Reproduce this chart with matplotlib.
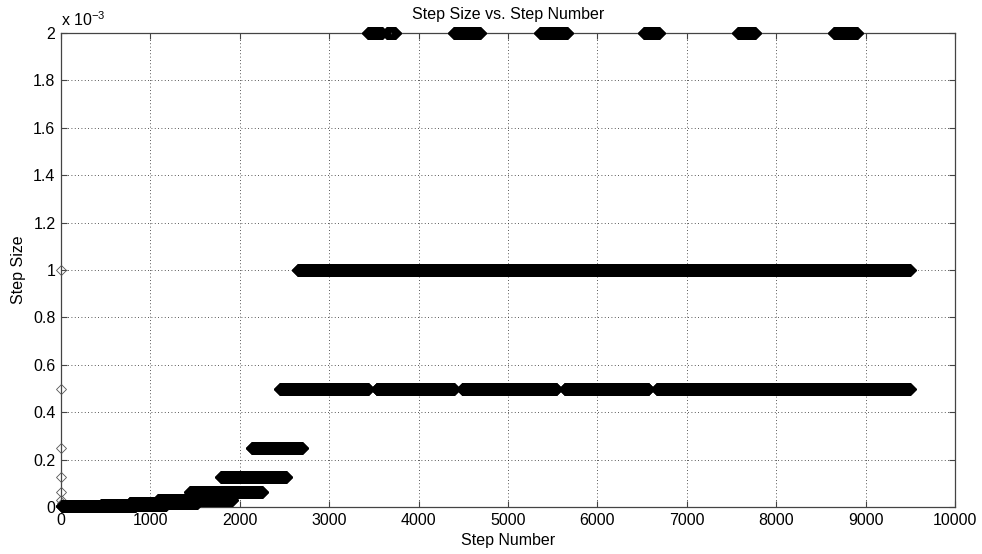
import numpy as np
import matplotlib
matplotlib.use('Agg')
import matplotlib.pyplot as plt

plt.rcParams['font.family'] = ['Liberation Sans', 'DejaVu Sans']
plt.rcParams['mathtext.default'] = 'regular'

# first few steps: step size halved until the solver settled
first_steps = [0, 1, 2, 3, 4, 5, 6]
first_sizes = [1e-3, 0.5e-3, 0.25e-3, 0.125e-3, 0.0625e-3, 0.03125e-3, 0.015625e-3]

# runs of constant step size (size, first step, last step)
run_size = [0.0039e-3, 0.0078e-3, 0.0156e-3, 0.03125e-3, 0.0625e-3, 0.125e-3, 0.25e-3,
            0.5e-3, 0.5e-3, 0.5e-3, 0.5e-3, 0.5e-3,
            1e-3,
            2e-3, 2e-3, 2e-3, 2e-3, 2e-3, 2e-3, 2e-3]
run_start = [8, 450, 770, 1085, 1443, 1790, 2136,
             2450, 3530, 4490, 5635, 6665,
             2650,
             3434, 3647, 4396, 5358, 6521, 7573, 8647]
run_stop = [830, 1170, 1520, 1913, 2248, 2517, 2696,
            3435, 4395, 5540, 6570, 9495,
            9495,
            3590, 3736, 4687, 5660, 6689, 7763, 8904]

steps = []
sizes = []
for s, a, b in zip(run_size, run_start, run_stop):
    n = np.arange(a, b + 1)
    steps.append(n)
    sizes.append(np.full(len(n), s))
steps = np.concatenate(steps)
sizes = np.concatenate(sizes)

fig = plt.figure(figsize=(9.82, 5.54), dpi=100)
ax = fig.add_axes([61/982, 47/554, 894/982, 474/554])

# isolated markers look thinner/greyer than the dense runs
ax.plot(first_steps, first_sizes, linestyle='none', marker='D', markersize=4.6,
        markerfacecolor='none', markeredgecolor='#555555', markeredgewidth=0.6,
        clip_on=False, zorder=3)
ax.plot(steps, sizes, linestyle='none', marker='D', markersize=6,
        markerfacecolor='none', markeredgecolor='k', markeredgewidth=0.6,
        clip_on=False, zorder=3)

ax.set_xlim(0, 10000)
ax.set_ylim(0, 2e-3)
ax.set_xticks(np.arange(0, 10001, 1000))
yt = np.arange(0, 2.01, 0.2)
ax.set_yticks(yt * 1e-3)
ax.set_yticklabels(['0' if v == 0 else ('%g' % round(v, 1)) for v in yt])

ax.grid(True, color='#222222', linestyle=(0, (1, 3)), linewidth=0.6)
ax.tick_params(direction='in', length=4, width=0.8, top=True, right=True,
               labelsize=11.5, color='#444444', pad=4)
for sp in ax.spines.values():
    sp.set_color('#444444')
    sp.set_linewidth(0.9)

ax.text(0, 1.008, r'x 10$^{-3}$', transform=ax.transAxes, fontsize=11.5,
        ha='left', va='bottom')
ax.set_title('Step Size vs. Step Number', fontsize=11.5, pad=10)
ax.set_xlabel('Step Number', fontsize=11.5, labelpad=4)
ax.set_ylabel('Step Size', fontsize=11.5, labelpad=5)

fig.savefig('out.png', dpi=100)
